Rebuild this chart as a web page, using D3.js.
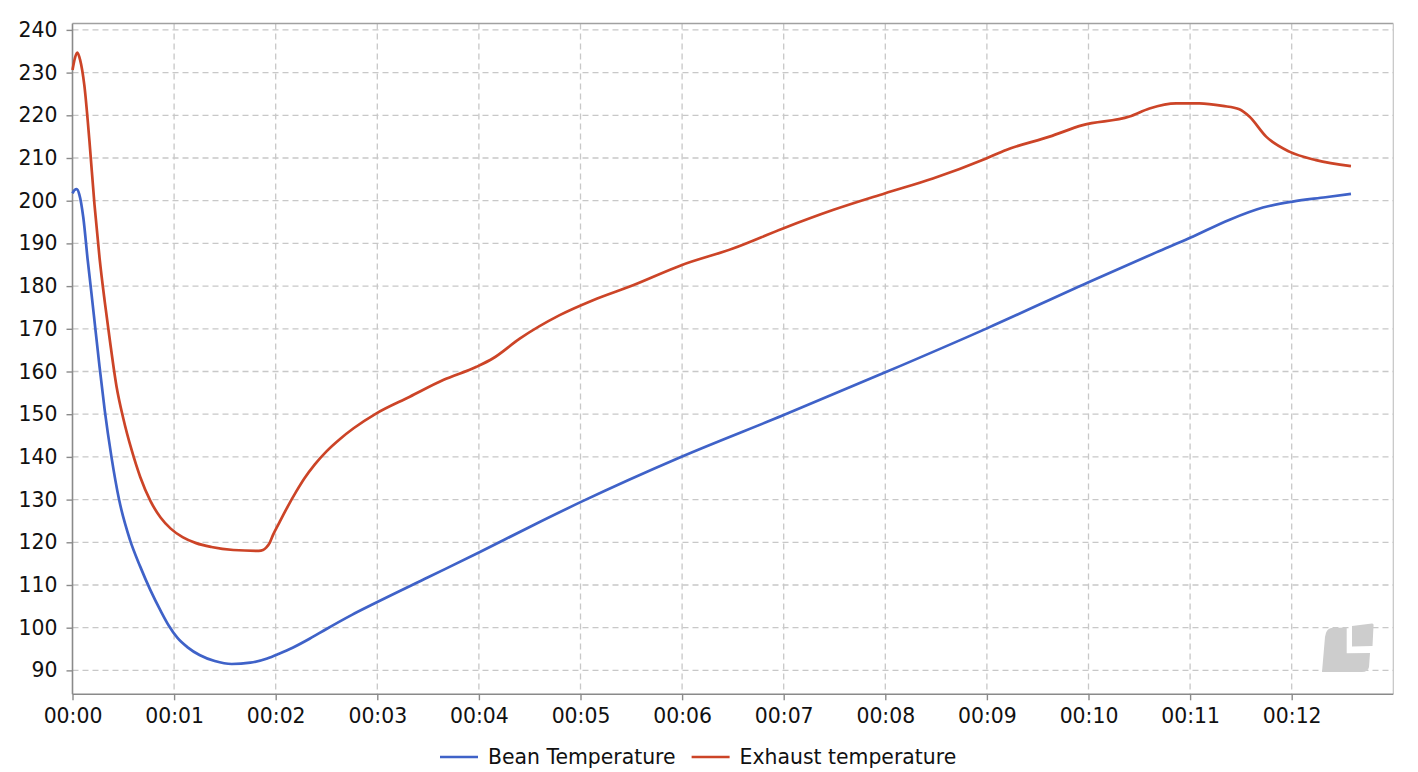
<!DOCTYPE html>
<html>
<head>
<meta charset="utf-8">
<script src="https://cdn.jsdelivr.net/npm/d3@7/dist/d3.min.js"></script>
<style>
  html, body { margin: 0; padding: 0; background: #fff; }
  svg { display: block; font-family: "DejaVu Sans", sans-serif; }
</style>
</head>
<body>
<svg id="chart" width="1418" height="772"></svg>
<script>
// ---- data (time in seconds, temperature) ----
const beanTimes = [0, 1.2, 2.5, 4, 6.4, 9, 11, 13.5, 16, 19, 23, 27.5, 34, 40, 46, 52, 57, 62, 68, 75, 84, 94, 105, 115, 122, 130, 140, 150, 165, 180, 210, 240, 270, 300, 360, 420, 480, 540, 600, 640, 660, 683, 703, 720.6, 740, 755];
const beanValues = [201.7, 202.5, 202.7, 201.5, 196, 186, 179, 170, 161, 151, 140, 130, 120.5, 114.3, 108.8, 104, 100.4, 97.6, 95.4, 93.6, 92.2, 91.5, 91.8, 92.8, 93.9, 95.3, 97.4, 99.7, 103.0, 106.0, 111.8, 117.6, 123.6, 129.4, 140.1, 149.8, 159.8, 170.1, 180.9, 187.9, 191.3, 195.5, 198.4, 199.8, 200.8, 201.6];

const exhaustTimes = [0, 1.5, 2.8, 4.5, 7, 10, 13, 16, 19, 22, 26, 30, 35, 40, 46, 52, 58, 65, 73, 82, 95, 110, 112.5, 114.5, 116.6, 118.5, 122.5, 127, 132, 137, 143, 150, 158, 166, 179.5, 199.2, 218.9, 238.6, 248.4, 264.1, 287.7, 307.4, 331, 359.6, 390, 419.6, 449, 479.6, 508.1, 539.6, 551.4, 577, 596.6, 624.2, 636, 651.8, 665.5, 679.3, 689.1, 695, 704.9, 718.6, 734.4, 755];
const exhaustValues = [230.6, 233.5, 234.7, 233, 227, 214, 199, 186.5, 176.5, 167.5, 156.5, 149, 141.5, 135.3, 129.7, 125.8, 123.2, 121.2, 119.8, 118.9, 118.2, 118.0, 118.2, 118.8, 120.0, 121.8, 124.9, 128.3, 131.8, 135.0, 138.2, 141.3, 144.2, 146.7, 150.2, 154.1, 158.0, 161.1, 163.1, 167.7, 173.2, 176.7, 180.2, 184.9, 188.8, 193.5, 197.8, 201.7, 205.2, 209.9, 211.9, 215.0, 217.7, 219.7, 221.6, 222.8, 222.8, 222.2, 221.4, 219.7, 215.0, 211.5, 209.5, 208.1];

const seriesNames = ["Bean Temperature", "Exhaust temperature"];
const seriesColors = ["#3f62c8", "#cc4427"];

const xTickValues = d3.range(0, 13).map(m => m * 60);
const yTickValues = d3.range(90, 241, 10);

// ---- layout ----
const svg = d3.select("#chart");
const pL = 72.5, pR = 1393.3, pT = 23.5, pB = 694.3;
const fontSize = "20.4px";

const x = d3.scaleLinear().domain([0, 780]).range([pL, pR]);
const y = d3.scaleLinear().domain([84.4, 241.5]).range([pB, pT]);

const fmt = s => "00:" + String(Math.round(s / 60)).padStart(2, "0");

// grid
const grid = svg.append("g");
grid.selectAll("line.h").data(yTickValues).join("line")
  .attr("x1", pL).attr("x2", pR)
  .attr("y1", d => y(d)).attr("y2", d => y(d))
  .attr("stroke", "#c8c8c8").attr("stroke-width", 1.3).attr("stroke-dasharray", "6,4");
grid.selectAll("line.v").data(xTickValues.filter(d => d > 0)).join("line")
  .attr("y1", pT).attr("y2", pB)
  .attr("x1", d => x(d)).attr("x2", d => x(d))
  .attr("stroke", "#c8c8c8").attr("stroke-width", 1.3).attr("stroke-dasharray", "6,4");

// watermark logo
const logo = svg.append("g").attr("fill", "#cdcdcd");
logo.append("path").attr("d", "M1331,628 L1346.7,627.5 L1346.7,653.3 L1370,653 L1369,667 Q1368,672 1362,672 L1322,672 L1325,637 Q1326,629 1331,628 Z");
logo.append("path").attr("d", "M1352,626 L1372,623.5 Q1374,623.5 1373.5,626 L1372.5,646 L1352,646.5 Z");

// frame
svg.append("line").attr("x1", pL).attr("x2", pR).attr("y1", pT).attr("y2", pT)
  .attr("stroke", "#a0a0a0").attr("stroke-width", 1.5);
svg.append("line").attr("x1", pR).attr("x2", pR).attr("y1", pT).attr("y2", pB)
  .attr("stroke", "#c4c4c4").attr("stroke-width", 1.2);

// axes
const xAxis = svg.append("g").attr("transform", `translate(0,${pB})`)
  .call(d3.axisBottom(x).tickValues(xTickValues).tickFormat(fmt).tickSizeOuter(0).tickSize(6).tickPadding(8));
const yAxis = svg.append("g").attr("transform", `translate(${pL},0)`)
  .call(d3.axisLeft(y).tickValues(yTickValues).tickSizeOuter(0).tickSize(6).tickPadding(9));
[xAxis, yAxis].forEach(a => {
  a.select(".domain").attr("stroke", "#8a8a8a").attr("stroke-width", 1.6);
  a.selectAll(".tick line").attr("stroke", "#8a8a8a").attr("stroke-width", 1.4);
  a.selectAll(".tick text").attr("fill", "#111").style("font-size", fontSize)
    .style("font-family", "'DejaVu Sans', sans-serif");
});
yAxis.select(".domain").attr("d", `M0,${pT}V${pB}`);
xAxis.select(".domain").attr("d", `M${pL},0H${pR}`);

// lines
const line = d3.line().x(d => x(d[0])).y(d => y(d[1])).curve(d3.curveMonotoneX);
const series = [
  d3.zip(beanTimes, beanValues),
  d3.zip(exhaustTimes, exhaustValues)
];
svg.append("g").selectAll("path").data(series).join("path")
  .attr("d", line)
  .attr("fill", "none")
  .attr("stroke", (d, i) => seriesColors[i])
  .attr("stroke-width", 2.7)
  .attr("stroke-linejoin", "round");

// legend
const legend = svg.append("g").attr("transform", "translate(440,757)");
let cx = 0;
seriesNames.forEach((name, i) => {
  const g = legend.append("g").attr("transform", `translate(${cx},0)`);
  g.append("line").attr("x1", 0).attr("x2", 38).attr("y1", 0).attr("y2", 0)
    .attr("stroke", seriesColors[i]).attr("stroke-width", 2.7);
  const t = g.append("text").attr("x", 48).attr("y", 0).attr("dy", "0.35em")
    .attr("fill", "#111").style("font-size", fontSize).text(name);
  cx += 48 + t.node().getComputedTextLength() + 16;
});
</script>
</body>
</html>
